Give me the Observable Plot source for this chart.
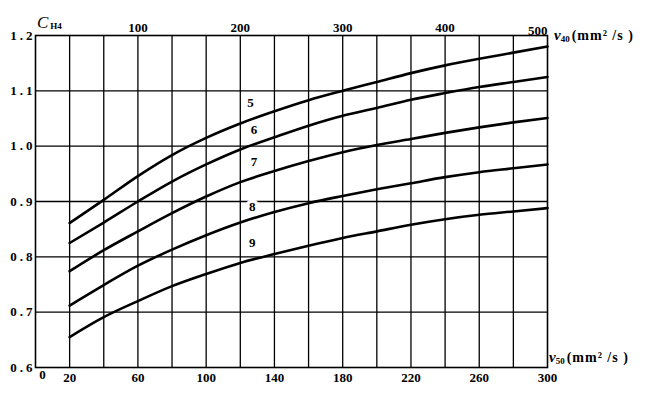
<!DOCTYPE html>
<html><head><meta charset="utf-8">
<script src="https://cdn.jsdelivr.net/npm/d3@7"></script>
<script src="https://cdn.jsdelivr.net/npm/@observablehq/plot@0.6"></script>
<style>body{margin:0;background:#fff}</style>
</head><body><div id="chart"></div>
<script>
// ν50 (mm²/s) positions where the curves are read
const nu50 = [20,40,60,80,100,120,140,160,180,200,220,240,260,280,300];
const curve5 = [0.861,0.903,0.946,0.984,1.015,1.041,1.063,1.083,1.100,1.116,1.132,1.146,1.158,1.169,1.180];
const curve6 = [0.825,0.862,0.900,0.936,0.967,0.994,1.016,1.037,1.055,1.069,1.084,1.096,1.107,1.116,1.125];
const curve7 = [0.774,0.812,0.846,0.879,0.909,0.935,0.955,0.973,0.989,1.002,1.013,1.024,1.034,1.043,1.051];
const curve8 = [0.712,0.749,0.784,0.813,0.839,0.862,0.881,0.897,0.910,0.922,0.933,0.944,0.953,0.960,0.967];
const curve9 = [0.655,0.691,0.720,0.747,0.769,0.789,0.805,0.820,0.834,0.846,0.858,0.868,0.876,0.882,0.888];

const labelNames = ["5","6","7","8","9"];
const labelX = [126,128,128,127,127];
const labelY = [1.078,1.030,0.971,0.891,0.825];

const gridX = [20,40,60,80,100,120,140,160,180,200,220,240,260,280];
const gridY = [0.7,0.8,0.9,1.0,1.1];
const yTicks = [0.6,0.7,0.8,0.9,1.0,1.1,1.2];
const bottomTicks = [20,60,100,140,180,220,260,300];
const topTicks = [100,200,300,400,500];   // ν40 values
const nu40Max = 500, nu50Max = 300;

const series = [curve5,curve6,curve7,curve8,curve9];
const rows = series.flatMap((vals, k) => vals.map((v, i) => ({s: labelNames[k], x: nu50[i], y: v})));
const labels = labelNames.map((t, i) => ({t, x: labelX[i], y: labelY[i]}));
const topPos = topTicks.map(d => d * nu50Max / nu40Max);

const plot = Plot.plot({
  width: 650, height: 393,
  marginLeft: 35, marginRight: 103, marginTop: 35, marginBottom: 26,
  style: {fontFamily: "'Liberation Serif', serif", fontSize: "13px", fontWeight: "bold", background: "white", color: "black"},
  x: {domain: [0, 300]},
  y: {domain: [0.6, 1.2]},
  marks: [
    Plot.ruleX(gridX, {stroke: "black", strokeWidth: 1.3}),
    Plot.ruleY(gridY, {stroke: "black", strokeWidth: 1.3}),
    Plot.frame({stroke: "black", strokeWidth: 1.6}),
    Plot.line(rows, {x: "x", y: "y", z: "s", stroke: "black", strokeWidth: 2.6, curve: "monotone-x"}),
    Plot.text(labels.filter(d => d.t === "8"), {x: "x", y: "y", text: "t", fill: "white", stroke: "white", strokeWidth: 7, fontSize: 13}),
    Plot.text(labels, {x: "x", y: "y", text: "t", fill: "black", fontSize: 13}),
    Plot.axisY({ticks: yTicks, tickSize: 0, tickPadding: 0, tickFormat: d3.format(".1f"), label: null, ariaLabel: "y-axis"}),
    Plot.axisX({ticks: bottomTicks, tickSize: 0, tickPadding: 5, label: null}),
    Plot.text([0], {x: d => d, frameAnchor: "bottom", dy: 11, dx: 7, text: d => String(d)}),
    Plot.axisX({anchor: "top", ticks: topPos.slice(0, -1), tickSize: 0, tickPadding: 4, label: null,
      tickFormat: d => String(Math.round(d * nu40Max / nu50Max))}),
    Plot.text([topTicks[topTicks.length - 1]], {frameAnchor: "top-right", dy: -10, textAnchor: "end", text: d => String(d)})
  ]
});
document.getElementById("chart").append(plot);

const svg = d3.select(plot);
// wider spacing of the left tick labels as in the reference
svg.selectAll('g[aria-label="y-axis tick label"] text').style("letter-spacing", "3px");

const ff = "'Liberation Serif', serif";
const ch = svg.append("text").attr("x", 37).attr("y", 28).attr("font-family", ff).attr("text-anchor", "start");
ch.append("tspan").attr("font-style", "italic").attr("font-weight", "normal").attr("font-size", 17).text("C");
ch.append("tspan").attr("font-weight", "bold").attr("font-size", 9).attr("dx", 2).attr("dy", 1).text("H4");

function unitLabel(x, y, sub) {
  const t = svg.append("text").attr("x", x).attr("y", y).attr("font-family", ff).attr("text-anchor", "start");
  t.append("tspan").attr("font-style", "italic").attr("font-weight", "bold").attr("font-size", 15).text("ν");
  t.append("tspan").attr("font-weight", "bold").attr("font-size", 9).attr("dy", 2).text(sub);
  t.append("tspan").attr("font-weight", "bold").attr("font-size", 14).attr("dy", -2).attr("dx", 2)
    .style("letter-spacing", "1px").text("(mm² /s )");
}
unitLabel(554, 40, "40");
unitLabel(549, 362, "50");
</script>
</body></html>
